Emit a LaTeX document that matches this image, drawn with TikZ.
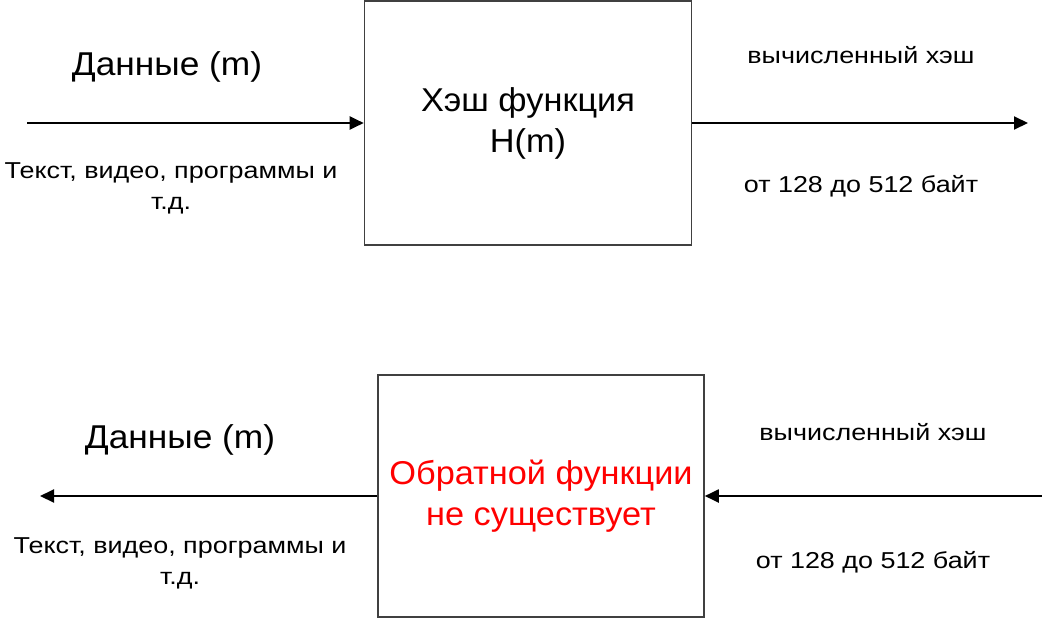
\documentclass[tikz,border=0pt]{standalone}
\usepackage{fontspec}
\setmainfont{Liberation Sans}
\newfontfamily\widebig[FakeStretch=1.07]{Liberation Sans}
\newfontfamily\widebox[FakeStretch=1.04]{Liberation Sans}
\newfontfamily\widesmall[FakeStretch=1.17]{Liberation Sans}
\usepackage{tikz}
\usetikzlibrary{arrows.meta}
\usetikzlibrary{positioning}
\usepackage{xcolor}

\definecolor{boxgray}{HTML}{404040}
\definecolor{warnred}{HTML}{FF0000}

\tikzset{
  funcbox/.style={draw=boxgray, line width=1.6pt, rectangle, inner sep=0pt, align=center,
    font=\widebox\fontsize{33}{41}\selectfont},
  biglabel/.style={font=\widebig\fontsize{33}{40}\selectfont, inner sep=0pt},
  smalllabel/.style={font=\widesmall\fontsize{23}{31}\selectfont, inner sep=0pt, align=center},
  flow/.style={line width=2pt, -{Triangle[length=14pt,width=13pt]}},
}

\begin{document}
\begin{tikzpicture}[x=1pt,y=-1pt]
  \useasboundingbox (0,0) rectangle (1042,619);

  % forward direction
  \node[funcbox, minimum width=327pt, minimum height=244pt] (hash) at (528,123)
    {Хэш функция\\H(m)};
  \coordinate (dataIn) at (27,123);
  \coordinate (hashOut) at (1028,123);
  \draw[flow] (dataIn) -- (hash.west);
  \draw[flow] (hash.east) -- (hashOut);

  \node[biglabel] (dataTop) at (167,67) {Данные (m)};
  \node[smalllabel] (kindTop) at (171,188) {Текст, видео, программы и\\т.д.};
  \node[smalllabel] (hashTop) at (861,55) {вычисленный хэш};
  \node[smalllabel] (sizeTop) at (861,186) {от 128 до 512 байт};

  % backward direction
  \node[funcbox, text=warnred, minimum width=326pt, minimum height=242pt] (inv) at (541,496)
    {Обратной функции\\не существует};
  \coordinate (dataBack) at (40,496);
  \coordinate (hashIn) at (1042,496);
  \draw[flow] (inv.west) -- (dataBack);
  \draw[flow] (hashIn) -- (inv.east);

  \node[biglabel] (dataBot) at (180,440) {Данные (m)};
  \node[smalllabel] (kindBot) at (180,563) {Текст, видео, программы и\\т.д.};
  \node[smalllabel] (hashBot) at (873,432) {вычисленный хэш};
  \node[smalllabel] (sizeBot) at (873,562) {от 128 до 512 байт};

\end{tikzpicture}
\end{document}
